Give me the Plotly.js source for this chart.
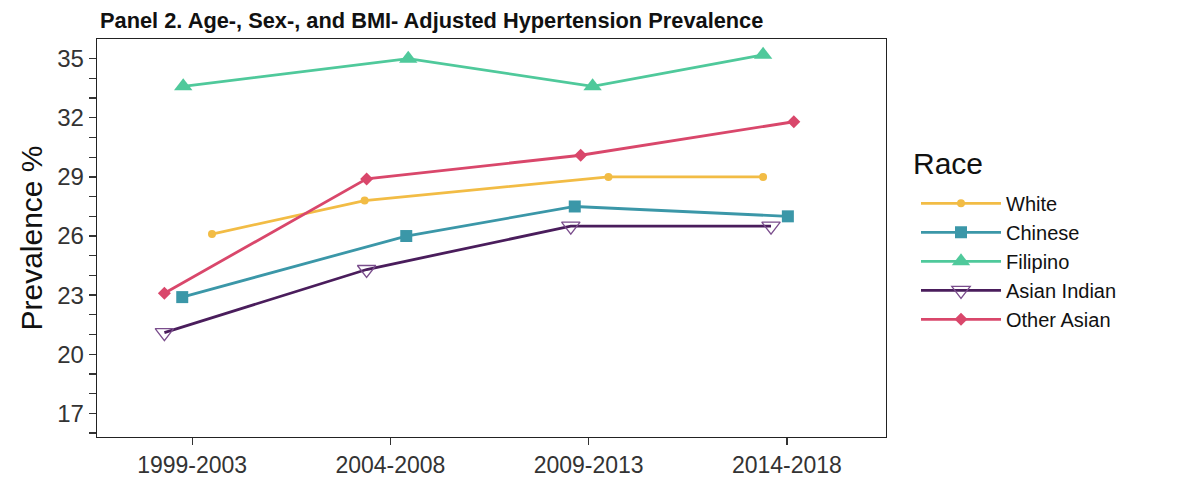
<!DOCTYPE html>
<html>
<head>
<meta charset="utf-8">
<script src="https://cdn.plot.ly/plotly-3.0.1.min.js"></script>
<style>
html,body{margin:0;padding:0;background:#ffffff;}
#chart{width:1200px;height:488px;}
</style>
</head>
<body>
<div id="chart"></div>
<script>
// Period categories (x axis tick labels)
const categories = ['1999-2003', '2004-2008', '2009-2013', '2014-2018'];

// Adjusted hypertension prevalence (%) per race
const white       = [26.1, 27.8, 29.0, 29.0];
const chinese     = [22.9, 26.0, 27.5, 27.0];
const filipino    = [33.6, 35.0, 33.6, 35.2];
const asianIndian = [21.1, 24.3, 26.5, 26.5];
const otherAsian  = [23.1, 28.9, 30.1, 31.8];

// Horizontal jitter (in category units) applied in the original figure
const jitterWhite       = [0.10, -0.13, 0.10, -0.12];
const jitterChinese     = [-0.05, 0.08, -0.07, 0.005];
const jitterFilipino    = [-0.045, 0.09, 0.02, -0.12];
const jitterAsianIndian = [-0.14, -0.12, -0.09, -0.08];
const jitterOtherAsian  = [-0.14, -0.12, -0.04, 0.035];

const yTickValues = [16,17,18,19,20,21,22,23,24,25,26,27,28,29,30,31,32,33,34,35];
const yTickLabels = yTickValues.map(v => ((v - 17) % 3 === 0) ? String(v) : '');

const legendTitle = 'Race';

function xs(jitter) { return categories.map((c, i) => i + jitter[i]); }

const series = [
  {name: 'White', y: white, j: jitterWhite, color: '#F2BC45',
   marker: {symbol: 'circle', size: 8, color: '#F2BC45'}},
  {name: 'Chinese', y: chinese, j: jitterChinese, color: '#3B97A8',
   marker: {symbol: 'square', size: 12, color: '#3B97A8'}},
  {name: 'Filipino', y: filipino, j: jitterFilipino, color: '#4FC99B',
   marker: {symbol: 'triangle-up', size: 16, color: '#4FC99B'}},
  {name: 'Asian Indian', y: asianIndian, j: jitterAsianIndian, color: '#4A1D5C',
   marker: {symbol: 'triangle-down', size: 16, color: 'rgba(255,255,255,0)', line: {color: '#7A4D8C', width: 1.3}}},
  {name: 'Other Asian', y: otherAsian, j: jitterOtherAsian, color: '#D9476B',
   marker: {symbol: 'diamond', size: 10, color: '#D9476B'}}
];

const traces = series.map(s => ({
  type: 'scatter',
  mode: 'lines+markers',
  name: s.name,
  x: xs(s.j),
  y: s.y,
  line: {color: s.color, width: 2.8},
  marker: s.marker,
  cliponaxis: false
}));

const layout = {
  width: 1200,
  height: 488,
  paper_bgcolor: '#ffffff',
  plot_bgcolor: '#ffffff',
  margin: {l: 97, r: 314, t: 39, b: 51, pad: 0},
  font: {family: 'Liberation Sans, Arial, sans-serif', color: '#333333'},
  title: {
    text: '<b>Panel 2. Age-, Sex-, and BMI- Adjusted Hypertension Prevalence</b>',
    font: {size: 21.8, color: '#111111', family: 'Liberation Sans, Arial, sans-serif'},
    xref: 'container', x: 100/1200, xanchor: 'left',
    yref: 'container', y: 1 - 20/488, yanchor: 'middle'
  },
  xaxis: {
    type: 'linear',
    range: [-0.48, 3.5],
    tickmode: 'array',
    tickvals: [0, 1, 2, 3],
    ticktext: categories,
    ticks: 'outside', ticklen: 7, tickwidth: 1.3, tickcolor: '#333333',
    tickfont: {size: 23, color: '#333333'},
    showline: true, linecolor: '#222222', linewidth: 1.3, mirror: true,
    showgrid: false, zeroline: false,
    fixedrange: true
  },
  yaxis: {
    range: [15.8, 36.0],
    tickmode: 'array',
    tickvals: yTickValues,
    ticktext: yTickLabels,
    ticks: 'outside', ticklen: 7, tickwidth: 1.3, tickcolor: '#333333',
    tickfont: {size: 24, color: '#333333'},
    showline: true, linecolor: '#222222', linewidth: 1.3, mirror: true,
    showgrid: false, zeroline: false,
    title: {text: 'Prevalence %', font: {size: 30, color: '#111111'}, standoff: 5},
    fixedrange: true
  },
  showlegend: true,
  legend: {
    x: (916 - 97) / 789, xanchor: 'left',
    y: 0.636, yanchor: 'top',
    bgcolor: 'rgba(0,0,0,0)',
    font: {size: 20, color: '#111111'},
    itemwidth: 80,
    tracegroupgap: 0,
    traceorder: 'normal'
  },
  annotations: [{
    text: legendTitle,
    xref: 'paper', yref: 'paper',
    x: (911 - 97) / 789, xanchor: 'left',
    y: (437 - 163) / 398, yanchor: 'middle',
    showarrow: false,
    font: {size: 30, color: '#111111'}
  }]
};

Plotly.newPlot('chart', traces, layout, {staticPlot: true, displayModeBar: false});
</script>
</body>
</html>
